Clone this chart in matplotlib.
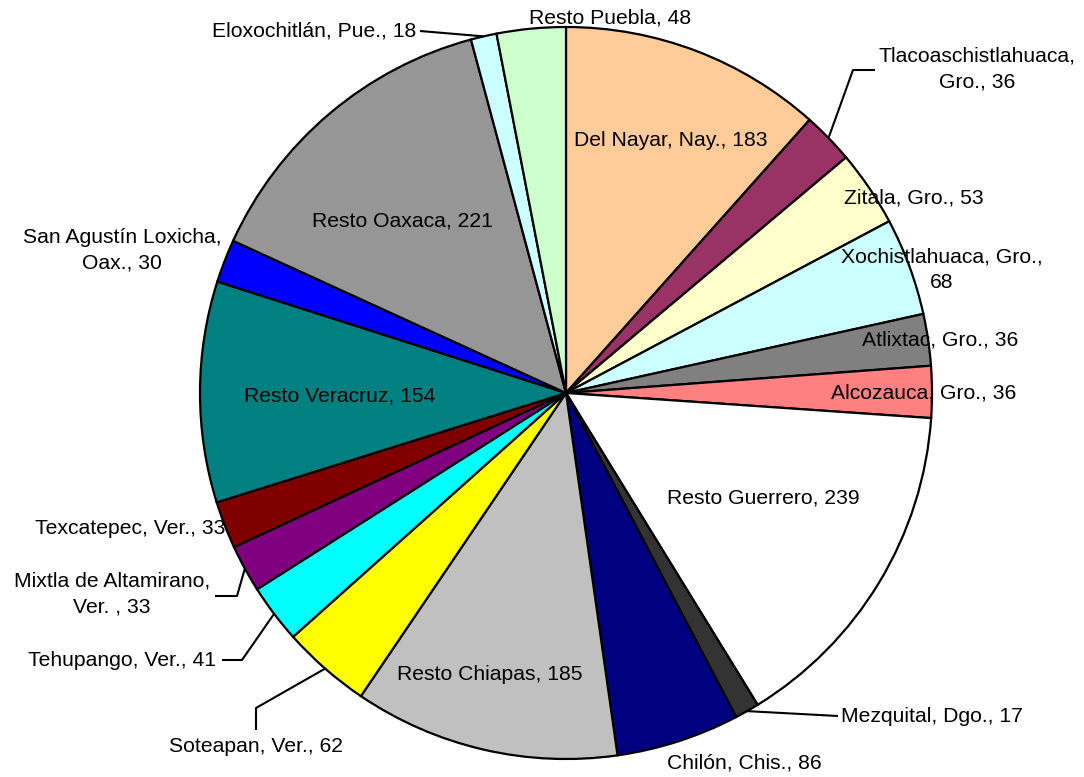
import numpy as np
import matplotlib
matplotlib.use("Agg")
import matplotlib.pyplot as plt

plt.rcParams['font.family'] = ['Liberation Sans', 'DejaVu Sans']

labels = ["Del Nayar, Nay., 183", "Tlacoaschistlahuaca,\nGro., 36", "Zitala, Gro., 53",
          "Xochistlahuaca, Gro.,\n68", "Atlixtac, Gro., 36", "Alcozauca, Gro., 36",
          "Resto Guerrero, 239", "Mezquital, Dgo., 17", "Chilón, Chis., 86",
          "Resto Chiapas, 185", "Soteapan, Ver., 62", "Tehupango, Ver., 41",
          "Mixtla de Altamirano,\nVer. , 33", "Texcatepec, Ver., 33", "Resto Veracruz, 154",
          "San Agustín Loxicha,\nOax., 30", "Resto Oaxaca, 221", "Eloxochitlán, Pue., 18",
          "Resto Puebla, 48"]
values = [183, 36, 53, 68, 36, 36, 239, 17, 86, 185, 62, 41, 33, 33, 154, 30, 221, 18, 48]
colors = ["#FFCC99", "#993366", "#FFFFCC", "#CCFFFF", "#808080", "#FF8080",
          "#FFFFFF", "#333333", "#000080", "#C0C0C0", "#FFFF00", "#00FFFF",
          "#800080", "#800000", "#008080", "#0000FF", "#969696", "#CCFFFF", "#CCFFCC"]

W, H = 1084, 777
fig = plt.figure(figsize=(W / 100, H / 100), dpi=100)
ax = fig.add_axes([0, 0, 1, 1])
ax.set_xlim(0, W)
ax.set_ylim(0, H)
ax.set_aspect('equal')
ax.axis('off')

cx, cy, R = 566, 393, 366


def P(px, py):
    return px, H - py


ax.pie(values, colors=colors, startangle=90, counterclock=False,
       center=P(cx, cy), radius=R, frame=True,
       wedgeprops=dict(edgecolor='black', linewidth=1.6))
ax.set_xlim(0, W)
ax.set_ylim(0, H)
ax.axis('off')

total = float(sum(values))
cum = np.cumsum([0] + values)
mids = [(cum[i] + values[i] / 2) / total * 360 for i in range(len(values))]


def anchor(i):
    a = np.radians(mids[i])
    return cx + R * np.sin(a), cy - R * np.cos(a)


fs = 15.2
# (text x, text y, ha) in pixels
pos = {
    0: (671, 141, 'center'),
    1: (977, 69, 'center'),
    2: (914, 198, 'center'),
    3: (942, 270, 'center'),
    4: (940, 340, 'center'),
    5: (924, 393, 'center'),
    6: (763, 498, 'center'),
    7: (841, 716, 'left'),
    8: (744, 763, 'center'),
    9: (490, 675, 'center'),
    10: (256, 747, 'center'),
    11: (216, 660, 'right'),
    12: (112, 594, 'center'),
    13: (225, 528, 'right'),
    14: (340, 396, 'center'),
    15: (122, 250, 'center'),
    16: (402, 221, 'center'),
    17: (416, 31, 'right'),
    18: (610, 18, 'center'),
}
for i, (tx, ty, ha) in pos.items():
    x, y = P(tx, ty)
    ax.text(x, y, labels[i], ha=ha, va='center', fontsize=fs,
            multialignment='center', linespacing=1.45, zorder=5)

# leader lines: anchor on slice edge -> elbow -> end near text
leaders = {
    1: [(853, 70), (875, 70)],
    7: [(838, 716)],
    10: [(256, 708), (256, 730)],
    11: [(242, 660), (222, 660)],
    12: [(237, 596), (215, 596)],
    17: [(420, 31)],
}
for i, pts in leaders.items():
    ax_, ay_ = anchor(i)
    xs = [ax_] + [p[0] for p in pts]
    ys = [ay_] + [p[1] for p in pts]
    ax.plot(xs, [H - y for y in ys], color='black', lw=1.5, zorder=4,
            solid_capstyle='butt')

fig.savefig("out.png", dpi=100)
